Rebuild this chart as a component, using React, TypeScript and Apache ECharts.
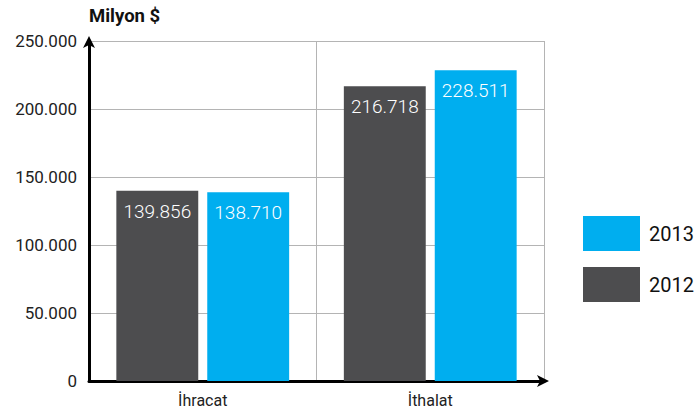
import React, { useEffect, useRef } from "react";
import * as echarts from "echarts";

const categories = ["İhracat", "İthalat"];
const values2012 = [139856, 216718];
const values2013 = [138710, 228511];
const seriesNames = ["2012", "2013"];
const legendOrder = ["2013", "2012"];
const yTitle = "Milyon $";

const fmt = (v: number) =>
  String(Math.round(v)).replace(/\B(?=(\d{3})+(?!\d))/g, ".");

export default function App() {
  const ref = useRef<HTMLDivElement>(null);
  useEffect(() => {
    if (!ref.current) return;
    const chart = echarts.init(ref.current, null, { renderer: "svg" });
    const font = "Roboto";
    const labelStyle = {
      show: true,
      position: "insideTop" as const,
      distance: 11,
      color: "#ffffff",
      fontFamily: font,
      fontWeight: 300,
      fontSize: 19,
      formatter: (p: any) => fmt(p.value),
    };
    chart.setOption({
      animation: false,
      backgroundColor: "#ffffff",
      title: {
        text: yTitle,
        left: 89,
        top: 6,
        padding: 0,
        textStyle: { fontFamily: font, fontWeight: "bold", fontSize: 18.5, color: "#111" },
      },
      legend: {
        data: legendOrder,
        orient: "vertical",
        left: 583,
        top: 216,
        itemWidth: 57,
        itemHeight: 35,
        itemGap: 16,
        padding: 0,
        icon: "rect",
        textStyle: { fontFamily: font, fontSize: 20, color: "#111", padding: [0, 0, 0, 4] },
      },
      grid: { left: 89, right: 151, top: 41, bottom: 37, containLabel: false },
      xAxis: {
        type: "category",
        data: categories,
        axisLine: {
          show: true,
          symbol: ["none", "arrow"],
          symbolSize: [9, 12],
          symbolOffset: [0, 5],
          lineStyle: { color: "#000", width: 3 },
        },
        axisTick: { show: false },
        splitLine: { show: true, lineStyle: { color: "#b4b4b4", width: 1 } },
        axisLabel: { fontFamily: font, fontSize: 16, color: "#222", margin: 11 },
      },
      yAxis: {
        type: "value",
        min: 0,
        max: 250000,
        interval: 50000,
        axisLine: {
          show: true,
          symbol: ["none", "arrow"],
          symbolSize: [9, 12],
          symbolOffset: [0, 5],
          lineStyle: { color: "#000", width: 3 },
        },
        axisTick: { show: false },
        splitLine: { show: true, lineStyle: { color: "#b4b4b4", width: 1 } },
        axisLabel: {
          fontFamily: font,
          fontSize: 17,
          color: "#222",
          margin: 12,
          formatter: (v: number) => fmt(v),
        },
      },
      series: [
        {
          name: seriesNames[0],
          type: "bar",
          data: values2012,
          barWidth: "36%",
          barGap: "11%",
          itemStyle: { color: "#4d4d4f" },
          label: labelStyle,
        },
        {
          name: seriesNames[1],
          type: "bar",
          data: values2013,
          barWidth: "36%",
          barGap: "11%",
          itemStyle: { color: "#00aeef" },
          label: labelStyle,
        },
      ],
    });
    return () => chart.dispose();
  }, []);
  return (
    <div
      ref={ref}
      style={{ position: "fixed", left: 0, top: 0, width: 695, height: 418, background: "#fff" }}
    />
  );
}
